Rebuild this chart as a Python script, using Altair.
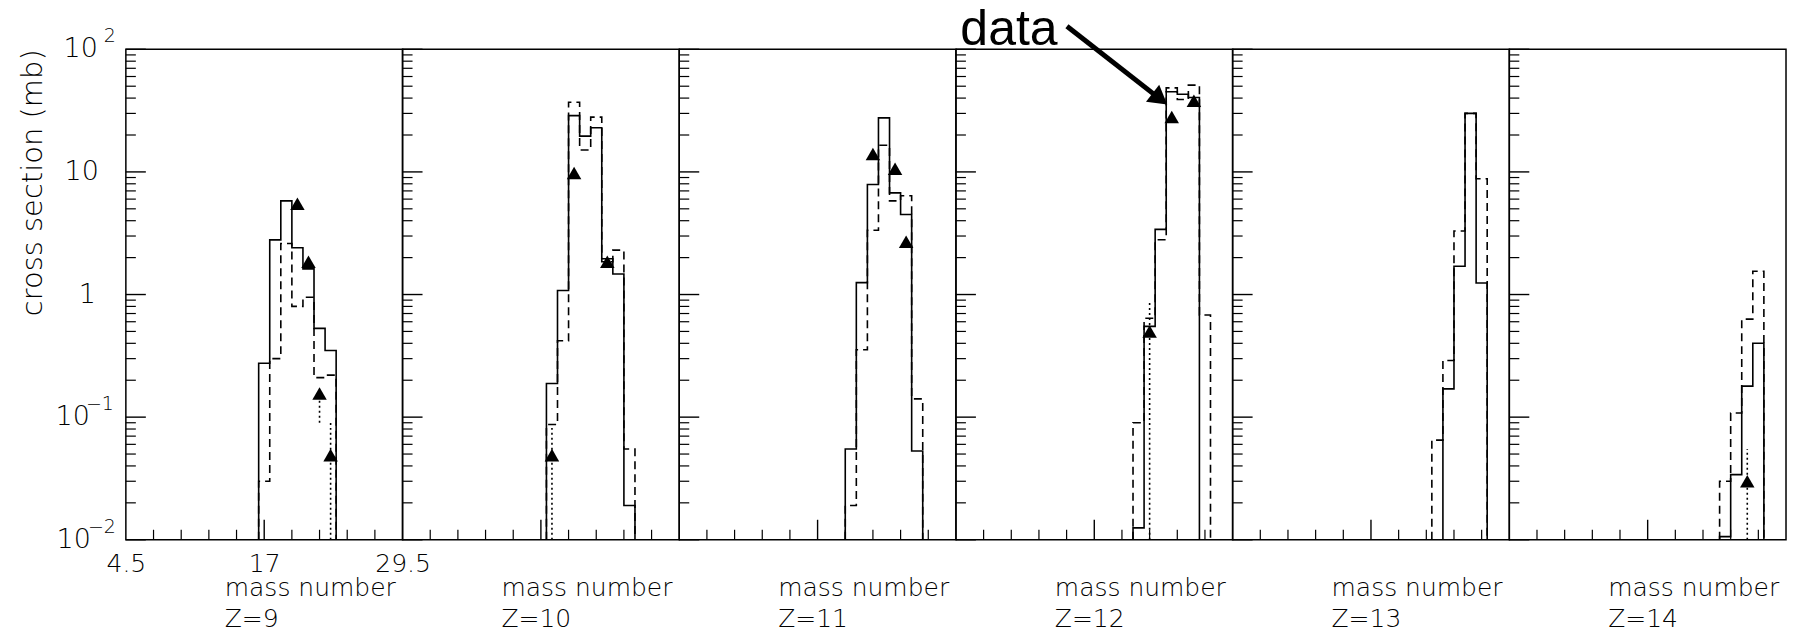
import altair as alt
import pandas as pd

# ---------------- data ----------------
Z_LIST = [9, 10, 11, 12, 13, 14]

# model histogram 1 (solid): centre of first bin and bin contents (mb), 1 mass unit per bin
SOLID_FIRST_A = {9: 17, 10: 18, 11: 20, 12: 21, 13: 24, 14: 24}
SOLID_VALUES = {
    9: [0.275, 2.79, 5.8, 2.41, 1.62, 0.53, 0.35],
    10: [0.188, 1.08, 28.8, 19.6, 22.9, 1.96, 1.47, 0.019],
    11: [0.055, 1.25, 7.9, 27.6, 6.75, 4.5, 0.053],
    12: [0.0125, 0.55, 3.4, 45.0, 43.0, 40.5],
    13: [0.17, 1.7, 30.0, 1.24],
    14: [0.0106, 0.034, 0.179, 0.40],
}
# model histogram 2 (dashed)
DASHED_FIRST_A = {9: 17, 10: 18, 11: 20, 12: 21, 13: 23, 14: 24}
DASHED_VALUES = {
    9: [0.03, 0.30, 2.61, 0.80, 0.95, 0.21, 0.22],
    10: [0.087, 0.42, 37.0, 15.1, 28.0, 1.85, 2.3, 0.055],
    11: [0.019, 0.354, 3.34, 16.5, 5.8, 6.4, 0.141],
    12: [0.09, 0.64, 2.8, 48.5, 39.0, 51.0, 0.68],
    13: [0.065, 0.29, 3.3, 30.0, 8.8],
    14: [0.030, 0.108, 0.63, 1.55],
}
# measured data (triangles) with dotted error bars (low, high)
DATA_A = {9: [20, 21, 22, 23], 10: [18, 20, 23], 11: [22, 24, 25],
          12: [22, 24, 26], 13: [], 14: [26]}
DATA_SIGMA = {9: [5.5, 1.85, 0.156, 0.049], 10: [0.049, 9.8, 1.85],
              11: [14.0, 10.6, 2.69], 12: [0.5, 28.0, 38.0], 13: [], 14: [0.030]}
DATA_LOW = {9: [5.5, 1.85, 0.09, 0.01], 10: [0.01, 9.8, 1.85],
            11: [14.0, 10.6, 2.69], 12: [0.01, 28.0, 38.0], 13: [], 14: [0.01]}
DATA_HIGH = {9: [5.5, 1.85, 0.156, 0.094], 10: [0.087, 9.8, 1.85],
             11: [14.0, 10.6, 2.69], 12: [0.9, 28.0, 38.0], 13: [], 14: [0.055]}

# axes
X_DOMAIN = [4.5, 29.5]
Y_DOMAIN = [0.01, 100]
X_LABEL_VALUES = [4.5, 17, 29.5]
X_MINOR_TICKS = [7, 9.5, 12, 14.5, 19.5, 22, 24.5, 27]
X_MAJOR_TICKS = [17]
Y_MAJOR_TICKS = [0.01, 0.1, 1, 10, 100]
Y_MINOR_TICKS = [k * 10.0 ** d for d in (-2, -1, 0, 1) for k in range(2, 10)]
Y_LABEL_VALUES = [0.01, 0.1, 1, 10, 100]
Y_LABEL_BASE = ["10", "10", "1", "10", "10"]
Y_LABEL_EXP = ["\u22122", "\u22121", "", "", "2"]
Y_TITLE = "cross section (mb)"
X_TITLE = "mass number"

# annotation ("data" with an arrow) in panel Z=12 data units
ANNOT_TEXT = "data"
ANNOT_TEXT_POS = (4.9, 108.0)
ARROW_FROM = (14.53, 154.0)
ARROW_HEAD = (22.93, 39.4)

# ---------------- styling ----------------
W, H = 277, 491
LEFT_MARGIN, TOP_MARGIN, RIGHT_MARGIN, BOTTOM_MARGIN = 125, 48, 8, 94
FONT = "DejaVu Sans"
FW = 200
BLACK = "black"
FLOOR = Y_DOMAIN[0]

xscale = alt.Scale(domain=X_DOMAIN, nice=False, zero=False)
yscale = alt.Scale(type="log", domain=Y_DOMAIN, nice=False)


def outline(first_a, vals):
    xs, ys = [], []
    left = first_a - 0.5
    xs.append(left); ys.append(FLOOR)
    for i, v in enumerate(vals):
        xs += [left + i, left + i + 1]
        ys += [v, v]
    xs.append(left + len(vals)); ys.append(FLOOR)
    return pd.DataFrame({"A": xs, "s": ys, "o": list(range(len(xs)))})


def frame_anchor(x0, x1):
    # invisible rule that fixes the page margins around the panels
    return alt.Chart(pd.DataFrame({"k": [0]})).mark_rule(
        strokeOpacity=0, opacity=0).encode(
        x=alt.value(x0), x2=alt.value(x1),
        y=alt.value(-TOP_MARGIN), y2=alt.value(H + BOTTOM_MARGIN))


def make_panel(idx, z):
    first = idx == 0
    last = idx == len(Z_LIST) - 1
    if first:
        xaxis = alt.Axis(values=X_LABEL_VALUES, ticks=False, domain=False, grid=False,
                         labelFontSize=25, labelFont=FONT, labelFontWeight=FW,
                         labelColor=BLACK, labelPadding=24, labelBaseline="middle",
                         labelExpr="datum.value", labelOverlap=False, labelFlush=False,
                         title=None)
    else:
        xaxis = None

    def X(field):
        return alt.X(field, type="quantitative", scale=xscale, axis=xaxis, title=None)

    def Y(field):
        return alt.Y(field, type="quantitative", scale=yscale, axis=None, title=None)

    layers = []
    # inward ticks on the left border
    layers.append(alt.Chart(pd.DataFrame({"v": Y_MAJOR_TICKS})).mark_rule(
        color=BLACK, strokeWidth=1.4).encode(
        x=alt.value(0), x2=alt.value(20), y=Y("v")))
    layers.append(alt.Chart(pd.DataFrame({"v": Y_MINOR_TICKS})).mark_rule(
        color=BLACK, strokeWidth=1.2).encode(
        x=alt.value(0), x2=alt.value(10), y=Y("v")))
    # inward ticks on the bottom border
    layers.append(alt.Chart(pd.DataFrame({"A": X_MINOR_TICKS})).mark_rule(
        color=BLACK, strokeWidth=1.2).encode(
        x=X("A"), y=alt.value(H), y2=alt.value(H - 10)))
    layers.append(alt.Chart(pd.DataFrame({"A": X_MAJOR_TICKS})).mark_rule(
        color=BLACK, strokeWidth=1.4).encode(
        x=X("A"), y=alt.value(H), y2=alt.value(H - 20)))

    # histograms
    layers.append(alt.Chart(outline(SOLID_FIRST_A[z], SOLID_VALUES[z])).mark_line(
        color=BLACK, strokeWidth=1.6, strokeCap="butt").encode(
        x=X("A"), y=Y("s"), order="o:Q"))
    layers.append(alt.Chart(outline(DASHED_FIRST_A[z], DASHED_VALUES[z])).mark_line(
        color=BLACK, strokeWidth=1.6, strokeDash=[8, 5], strokeCap="butt").encode(
        x=X("A"), y=Y("s"), order="o:Q"))

    # data points
    if DATA_A[z]:
        ddf = pd.DataFrame({"A": DATA_A[z], "s": DATA_SIGMA[z],
                            "lo": DATA_LOW[z], "hi": DATA_HIGH[z]})
        edf = ddf[ddf["lo"] < ddf["hi"]]
        if len(edf):
            layers.append(alt.Chart(edf).mark_rule(
                color=BLACK, strokeWidth=1.6, strokeDash=[2, 3]).encode(
                x=X("A"), y=Y("lo"), y2="hi:Q"))
        layers.append(alt.Chart(ddf).mark_point(
            shape="triangle-up", filled=True, size=210, color=BLACK, opacity=1).encode(
            x=X("A"), y=Y("s")))

    # x title and Z label under each panel
    layers.append(alt.Chart(pd.DataFrame({"t": [X_TITLE]})).mark_text(
        font=FONT, fontWeight=FW, fontSize=25, align="left", baseline="middle",
        color=BLACK).encode(text="t:N", x=alt.value(99), y=alt.value(H + 48)))
    layers.append(alt.Chart(pd.DataFrame({"t": ["Z=%d" % z]})).mark_text(
        font=FONT, fontWeight=FW, fontSize=25, align="left", baseline="middle",
        color=BLACK).encode(text="t:N", x=alt.value(99), y=alt.value(H + 79)))

    if first:
        layers.append(frame_anchor(-LEFT_MARGIN, 0))
        ldf = pd.DataFrame({"v": Y_LABEL_VALUES, "base": Y_LABEL_BASE, "exp": Y_LABEL_EXP,
                            "bx": [-35, -36, -30, -27, -28], "ex": [-10, -12, 0, 0, -10]})
        layers.append(alt.Chart(ldf).mark_text(
            font=FONT, fontWeight=FW, fontSize=27, align="right", baseline="middle",
            color=BLACK).encode(text="base:N", y=Y("v"), x=alt.X("bx:Q", scale=None)))
        layers.append(alt.Chart(ldf[ldf["exp"] != ""]).mark_text(
            font=FONT, fontWeight=FW, fontSize=19, align="right", baseline="middle",
            dy=-13, color=BLACK).encode(text="exp:N", y=Y("v"), x=alt.X("ex:Q", scale=None)))
        layers.append(alt.Chart(pd.DataFrame({"t": [Y_TITLE]})).mark_text(
            font=FONT, fontWeight=FW, fontSize=29, angle=270, align="right",
            baseline="middle", color=BLACK).encode(
            text="t:N", x=alt.value(-93), y=alt.value(0)))
    if last:
        layers.append(frame_anchor(W, W + RIGHT_MARGIN))

    if z == 12:
        adf = pd.DataFrame({"A": [ARROW_FROM[0]], "s": [ARROW_FROM[1]],
                            "A2": [ARROW_HEAD[0]], "s2": [ARROW_HEAD[1]]})
        layers.append(alt.Chart(adf).mark_rule(color=BLACK, strokeWidth=5).encode(
            x=X("A"), y=Y("s"), x2="A2:Q", y2="s2:Q"))
        hdf = pd.DataFrame({"A": [ARROW_HEAD[0]], "s": [ARROW_HEAD[1]]})
        layers.append(alt.Chart(hdf).mark_point(
            shape="triangle-up", filled=True, size=460, angle=128, color=BLACK,
            opacity=1).encode(x=X("A"), y=Y("s")))
        tdf = pd.DataFrame({"A": [ANNOT_TEXT_POS[0]], "s": [ANNOT_TEXT_POS[1]],
                            "t": [ANNOT_TEXT]})
        layers.append(alt.Chart(tdf).mark_text(
            font="Liberation Sans", fontSize=50, align="left", baseline="alphabetic",
            color=BLACK).encode(x=X("A"), y=Y("s"), text="t:N"))

    return alt.layer(*layers).properties(width=W, height=H)


panels = [make_panel(i, z) for i, z in enumerate(Z_LIST)]

chart = alt.hconcat(*panels, spacing=0, bounds="flush").properties(
    padding=0,
    background="white",
).configure_view(stroke=BLACK, strokeWidth=1.5)

chart.save("out.html", embed_options={"renderer": "svg", "actions": False})
